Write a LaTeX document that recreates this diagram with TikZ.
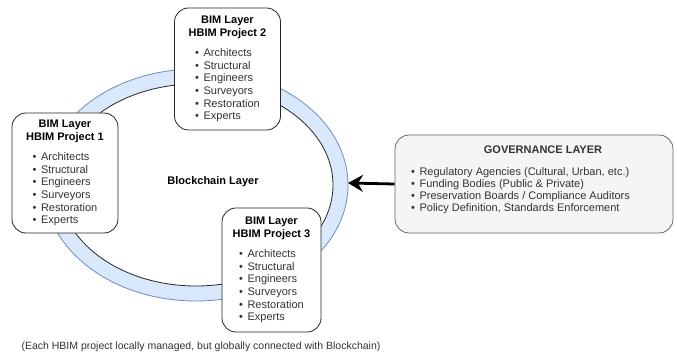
\documentclass[tikz,border=0pt]{standalone}
\usepackage{fontspec}
\setmainfont{Liberation Sans}
\usetikzlibrary{arrows.meta}
\definecolor{ringfill}{HTML}{DAE8FC}
\definecolor{ringline}{HTML}{6C8EBF}
\definecolor{itemgray}{HTML}{333333}
\definecolor{govfill}{HTML}{F5F5F5}
\definecolor{govline}{HTML}{666666}
\newcommand{\bimitems}{%
  {\color{itemgray}\begin{tabular}{@{}l@{}}
  •\hspace{4.5pt}Architects\\
  •\hspace{4.5pt}Structural\\
  •\hspace{4.5pt}Engineers\\
  •\hspace{4.5pt}Surveyors\\
  •\hspace{4.5pt}Restoration\\
  •\hspace{4.5pt}Experts
  \end{tabular}}}
\newcommand{\bimcontent}[1]{%
  \begin{tabular}{@{}c@{}}
  \bfseries BIM Layer\\
  \bfseries HBIM Project #1\\[8pt]
  \bimitems
  \end{tabular}}
\tikzset{
  bimbox/.style={draw=black!85, fill=white, rounded corners=14pt, line width=0.8pt,
    inner sep=0pt, font=\fontsize{11}{12.6}\selectfont},
  govbox/.style={draw=govline, fill=govfill, rounded corners=14pt, line width=0.8pt,
    minimum width=278pt, minimum height=98pt, inner sep=0pt},
  govtext/.style={font=\fontsize{11}{12.3}\selectfont, text=itemgray, inner sep=0pt},
  bigarrow/.style={-{Stealth[length=15pt,width=17pt,inset=5pt]}, line width=2.8pt}
}
\begin{document}
\begin{tikzpicture}[x=1pt,y=-1pt]
  \useasboundingbox (0,0) rectangle (677,358);

  % blockchain ring
  \draw[ringline, fill=ringfill, line width=0.8pt] (196,185) ellipse [x radius=152, y radius=116];
  \draw[black!85, fill=white, line width=0.8pt] (196,185) ellipse [x radius=137, y radius=101];
  \coordinate (ringE) at (348,183);
  \node[font=\bfseries\fontsize{11}{13}\selectfont] (chain) at (213,182) {Blockchain Layer};

  % BIM project boxes
  \node[bimbox, minimum width=106pt, minimum height=122pt] (p2) at (227.5,69) {\bimcontent{2}};
  \node[bimbox, minimum width=106pt, minimum height=120pt] (p1) at (65,173) {\bimcontent{1}};
  \node[bimbox, minimum width=99pt, minimum height=124pt] (p3) at (271.5,270) {\bimcontent{3}};

  % governance layer
  \node[govbox] (gov) at (534,184) {};
  \node[font=\bfseries\fontsize{11}{13}\selectfont, text=itemgray] (govtitle) at (543,150) {GOVERNANCE LAYER};
  \node[govtext, anchor=west] (govitems) at (411,191) {%
    \begin{tabular}{@{}l@{}}
    •\hspace{4.5pt}Regulatory Agencies (Cultural, Urban, etc.)\\
    •\hspace{4.5pt}Funding Bodies (Public \& Private)\\
    •\hspace{4.5pt}Preservation Boards / Compliance Auditors\\
    •\hspace{4.5pt}Policy Definition, Standards Enforcement
    \end{tabular}};

  \draw[bigarrow] (gov.west) -- (ringE);

  % caption
  \node[font=\fontsize{10.5}{12}\selectfont, text=itemgray] (caption) at (201,347)
    {(Each HBIM project locally managed, but globally connected with Blockchain)};
\end{tikzpicture}
\end{document}
